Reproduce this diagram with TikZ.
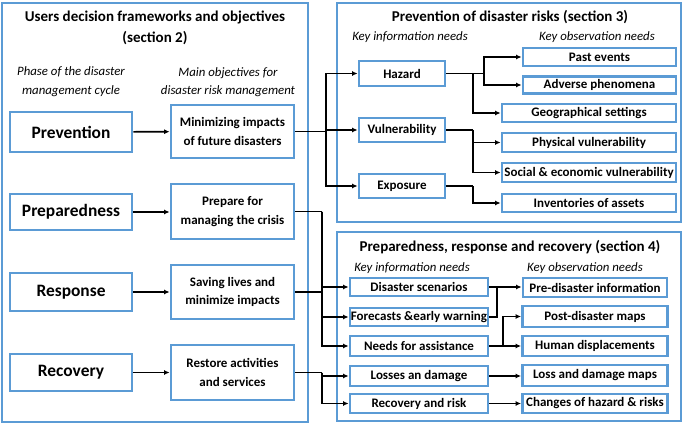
\documentclass[tikz,border=0pt]{standalone}
\usepackage{fontspec}
\setmainfont{Carlito}
\usetikzlibrary{arrows.meta}
\definecolor{boxblue}{RGB}{91,155,213}

\begin{document}
\begin{tikzpicture}[x=1pt,y=-1pt,
    panel/.style={draw=boxblue,line width=2.8pt},
    phasebox/.style={draw=boxblue,line width=2.8pt,minimum width=122pt,inner sep=0pt,font=\bfseries\fontsize{17.4}{20}\selectfont},
    goalbox/.style={draw=boxblue,line width=2.8pt,minimum width=123pt,inner sep=0pt,align=center,font=\bfseries\fontsize{13}{18.5}\selectfont},
    infobox/.style={draw=boxblue,line width=2.8pt,inner sep=0pt,font=\bfseries\fontsize{13}{15}\selectfont},
    headtext/.style={align=center,font=\bfseries\fontsize{15}{21}\selectfont},
    notetext/.style={align=center,font=\itshape\fontsize{12.8}{18.5}\selectfont},
    link/.style={line width=1.6pt},
    arr/.style={link,-{Latex[length=5.5pt,width=5pt]}}]
    \useasboundingbox (0,0) rectangle (685,425);
    % panels
    \draw[panel] (2,3) rectangle (308,422);
    \draw[panel] (337,3) rectangle (681,222);
    \draw[panel] (337,232) rectangle (681,421);
    % section 2
    \node (t2) at (155,27.5) [headtext] {Users decision frameworks and objectives\\(section 2)};
    \node (n2a) at (71,81.5) [notetext] {Phase of the disaster\\management cycle};
    \node (n2b) at (228,82) [notetext] {Main objectives for\\disaster risk management};
    \node (prev) at (71,132) [phasebox,minimum height=40pt] {Prevention};
    \node (prep) at (71,212) [phasebox,minimum height=36pt] {Preparedness};
    \node (resp) at (71,292) [phasebox,minimum height=38pt] {Response};
    \node (reco) at (71,372.5) [phasebox,minimum height=37pt] {Recovery};
    \node (minim) at (232.5,131.5) [goalbox,minimum height=53pt] {Minimizing impacts\\of future disasters};
    \node (crisis) at (232.5,211.5) [goalbox,minimum height=55pt] {Prepare for\\managing the crisis};
    \node (saving) at (232.5,292) [goalbox,minimum height=54pt] {Saving lives and\\minimize impacts};
    \node (restore) at (232.5,372.5) [goalbox,minimum height=55pt] {Restore activities\\and services};
    \draw[arr] (prev) -- (minim);
    \draw[arr] (prep.east) -- (crisis.west |- prep.east);
    \draw[arr] (resp) -- (saving);
    \draw[arr] (reco) -- (restore);
    % section 3
    \node (t3) at (510,17) [headtext] {Prevention of disaster risks (section 3)};
    \node (n3a) at (410,37) [notetext] {Key information needs};
    \node (n3b) at (597,37) [notetext] {Key observation needs};
    \node (haz) at (402,73.5) [infobox,minimum width=86pt,minimum height=25pt] {Hazard};
    \node (vul) at (402,130) [infobox,minimum width=86pt,minimum height=24pt] {Vulnerability};
    \node (expo) at (402,186) [infobox,minimum width=86pt,minimum height=24pt] {Exposure};
    \node (past) at (599.5,57) [infobox,minimum width=153pt,minimum height=18pt] {Past events};
    \node (adv) at (599.5,85) [infobox,minimum width=153pt,minimum height=17pt] {Adverse phenomena};
    \node (geo) at (589,113) [infobox,minimum width=174pt,minimum height=18pt] {Geographical settings};
    \node (phys) at (589,142.5) [infobox,minimum width=174pt,minimum height=19pt] {Physical vulnerability};
    \node (soc) at (589,172.5) [infobox,minimum width=174pt,minimum height=19pt] {Social \& economic vulnerability};
    \node (inv) at (589,203) [infobox,minimum width=174pt,minimum height=18pt] {Inventories of assets};
    \coordinate (jm) at (326,131.5);
    \draw[link] (minim.east) -- (jm);
    \draw[arr] (jm) |- (haz.west);
    \draw[arr] (jm) |- (vul.west);
    \draw[arr] (jm) |- (expo.west);
    \coordinate (jh) at (473,73.5);
    \coordinate (jh2) at (484,73.5);
    \draw[link] (haz.east) -- (jh2);
    \draw[arr] (jh2) |- (past.west);
    \draw[arr] (jh2) |- (adv.west);
    \draw[arr] (jh) |- (geo.west);
    \coordinate (jv) at (473,130);
    \draw[link] (vul.east) -- (jv);
    \draw[arr] (jv) |- (phys.west);
    \draw[arr] (jv) |- (soc.west);
    \coordinate (je) at (473,186);
    \draw[link] (expo.east) -- (je);
    \draw[arr] (je) |- (inv.west);
    % section 4
    \node (t4) at (510,247) [headtext] {Preparedness, response and recovery (section 4)};
    \node (n4a) at (412,268) [notetext] {Key information needs};
    \node (n4b) at (585,268) [notetext] {Key observation needs};
    \node (scen) at (419,287) [infobox,minimum width=138pt,minimum height=18pt] {Disaster scenarios};
    \node (fore) at (419,317) [infobox,minimum width=138pt,minimum height=18pt] {Forecasts \&early warning};
    \node (assist) at (419,346) [infobox,minimum width=138pt,minimum height=20pt] {Needs for assistance};
    \node (loss) at (419,376) [infobox,minimum width=138pt,minimum height=20pt] {Losses an damage};
    \node (rrisk) at (419,403.5) [infobox,minimum width=138pt,minimum height=19pt] {Recovery and risk};
    \node (pre) at (595,287.5) [infobox,minimum width=144pt,minimum height=19pt] {Pre-disaster information};
    \node (post) at (595,316.5) [infobox,minimum width=145pt,minimum height=21pt] {Post-disaster maps};
    \node (hum) at (595,346) [infobox,minimum width=145pt,minimum height=20pt] {Human displacements};
    \node (ldm) at (595,375.5) [infobox,minimum width=145pt,minimum height=21pt] {Loss and damage maps};
    \node (chg) at (595,403.5) [infobox,minimum width=145pt,minimum height=19pt] {Changes of hazard \& risks};
    \coordinate (jp) at (322,211.5);
    \draw[link] (crisis.east) -- (jp);
    \draw[arr] (jp) |- (scen.west);
    \draw[arr] (jp) |- (fore.west);
    \draw[arr] (jp) |- (assist.west);
    \draw[link] (saving.east) -- (saving.east -| jp);
    \coordinate (jr) at (322,372.5);
    \draw[link] (restore.east) -- (jr);
    \draw[arr] (jr) |- (loss.west);
    \draw[arr] (jr) |- (rrisk.west);
    \coordinate (js) at (497,287);
    \draw[arr] (scen.east) -- (pre.west |- scen.east);
    \draw[link] (fore.east) -| (js);
    \coordinate (jn) at (503,346);
    \draw[link] (assist.east) -- (jn);
    \draw[arr] (jn) |- (post.west);
    \draw[arr] (jn) |- (hum.west);
    \draw[arr] (loss.east) -- (ldm.west |- loss.east);
    \draw[arr] (rrisk.east) -- (chg.west |- rrisk.east);
\end{tikzpicture}
\end{document}
